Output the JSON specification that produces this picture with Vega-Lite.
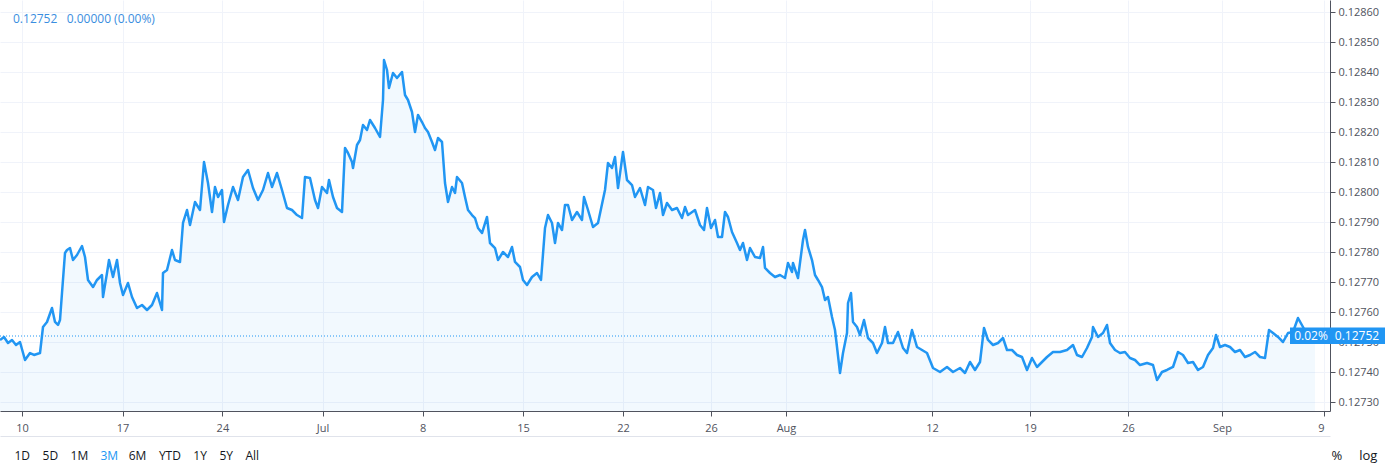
{
  "$schema": "https://vega.github.io/schema/vega-lite/v6.json",
  "width": 1330,
  "height": 411,
  "autosize": "none",
  "padding": {"left": 0, "top": 0, "right": 55, "bottom": 61},
  "background": "white",
  "title": {
    "text": "0.12752\u00a0\u00a0 0.00000 (0.00%)",
    "anchor": "start",
    "frame": "group",
    "orient": "top",
    "offset": -26,
    "dx": 13,
    "fontSize": 12,
    "fontWeight": "normal",
    "font": "Open Sans",
    "color": "#3a8ee0"
  },
  "datasets": {
    "rate": [
      {"t": -1.1, "v": 0.1275067}, {"t": -0.9, "v": 0.1275167}, {"t": -0.7, "v": 0.1274967}, {"t": -0.5, "v": 0.1275067},
      {"t": -0.3, "v": 0.12749}, {"t": -0.1, "v": 0.1275}, {"t": 0.15, "v": 0.12744}, {"t": 0.4, "v": 0.1274633},
      {"t": 0.6, "v": 0.1274567}, {"t": 0.75, "v": 0.12746}, {"t": 0.9, "v": 0.1274633}, {"t": 1.05, "v": 0.12755},
      {"t": 1.25, "v": 0.1275667}, {"t": 1.5, "v": 0.1276133}, {"t": 1.65, "v": 0.1275667}, {"t": 1.8, "v": 0.1275567},
      {"t": 1.9, "v": 0.1275733}, {"t": 2.0, "v": 0.1276633}, {"t": 2.15, "v": 0.1277967}, {"t": 2.25, "v": 0.1278067},
      {"t": 2.4, "v": 0.1278133}, {"t": 2.55, "v": 0.1277733}, {"t": 2.75, "v": 0.12779}, {"t": 3.0, "v": 0.12782},
      {"t": 3.15, "v": 0.1277833}, {"t": 3.3, "v": 0.1277067}, {"t": 3.55, "v": 0.1276833}, {"t": 3.75, "v": 0.1277067},
      {"t": 4.0, "v": 0.1277233}, {"t": 4.05, "v": 0.12765}, {"t": 4.25, "v": 0.12773}, {"t": 4.35, "v": 0.1277733},
      {"t": 4.55, "v": 0.1277167}, {"t": 4.75, "v": 0.1277733}, {"t": 4.9, "v": 0.1276967}, {"t": 5.05, "v": 0.1276567},
      {"t": 5.3, "v": 0.1276967}, {"t": 5.5, "v": 0.12765}, {"t": 5.75, "v": 0.1276133}, {"t": 6.0, "v": 0.1276233},
      {"t": 6.25, "v": 0.1276067}, {"t": 6.5, "v": 0.1276233}, {"t": 6.75, "v": 0.1276633}, {"t": 7.0, "v": 0.1276067},
      {"t": 7.05, "v": 0.12773}, {"t": 7.25, "v": 0.12774}, {"t": 7.5, "v": 0.1278067}, {"t": 7.65, "v": 0.1277733},
      {"t": 7.9, "v": 0.1277667}, {"t": 8.05, "v": 0.1278967}, {"t": 8.25, "v": 0.12794}, {"t": 8.4, "v": 0.12789},
      {"t": 8.65, "v": 0.1279667}, {"t": 8.9, "v": 0.12794}, {"t": 9.1, "v": 0.1281}, {"t": 9.3, "v": 0.12803},
      {"t": 9.5, "v": 0.1279333}, {"t": 9.65, "v": 0.1280167}, {"t": 9.8, "v": 0.1279833}, {"t": 10.0, "v": 0.1280067},
      {"t": 10.1, "v": 0.1279}, {"t": 10.3, "v": 0.1279567}, {"t": 10.55, "v": 0.1280167}, {"t": 10.8, "v": 0.1279733},
      {"t": 11.05, "v": 0.12805}, {"t": 11.3, "v": 0.1280733}, {"t": 11.55, "v": 0.1280133}, {"t": 11.8, "v": 0.1279733},
      {"t": 12.05, "v": 0.1280067}, {"t": 12.3, "v": 0.1280633}, {"t": 12.5, "v": 0.1280167}, {"t": 12.75, "v": 0.1280633},
      {"t": 13.0, "v": 0.1280067}, {"t": 13.25, "v": 0.1279467}, {"t": 13.5, "v": 0.12794}, {"t": 13.75, "v": 0.1279233},
      {"t": 14.0, "v": 0.1279133}, {"t": 14.15, "v": 0.12805}, {"t": 14.4, "v": 0.1280467}, {"t": 14.65, "v": 0.1279733},
      {"t": 14.8, "v": 0.1279467}, {"t": 15.0, "v": 0.1280167}, {"t": 15.25, "v": 0.1279967}, {"t": 15.35, "v": 0.12804},
      {"t": 15.55, "v": 0.1279833}, {"t": 15.75, "v": 0.1279467}, {"t": 16.0, "v": 0.1279333}, {"t": 16.15, "v": 0.1281467},
      {"t": 16.3, "v": 0.12813}, {"t": 16.5, "v": 0.1281}, {"t": 16.55, "v": 0.12808}, {"t": 16.75, "v": 0.1281567},
      {"t": 16.9, "v": 0.1281733}, {"t": 17.05, "v": 0.1282233}, {"t": 17.25, "v": 0.1282067}, {"t": 17.4, "v": 0.12824},
      {"t": 17.65, "v": 0.1282133}, {"t": 17.9, "v": 0.1281833}, {"t": 18.05, "v": 0.1283067}, {"t": 18.1, "v": 0.12844},
      {"t": 18.25, "v": 0.1284067}, {"t": 18.35, "v": 0.1283467}, {"t": 18.55, "v": 0.1283967}, {"t": 18.75, "v": 0.12838},
      {"t": 19.0, "v": 0.1284}, {"t": 19.15, "v": 0.1283233}, {"t": 19.3, "v": 0.1283067}, {"t": 19.5, "v": 0.1282667},
      {"t": 19.65, "v": 0.1282}, {"t": 19.8, "v": 0.1282567}, {"t": 20.0, "v": 0.1282333}, {"t": 20.15, "v": 0.1282133},
      {"t": 20.3, "v": 0.1282}, {"t": 20.5, "v": 0.1281667}, {"t": 20.65, "v": 0.12814}, {"t": 20.8, "v": 0.12818},
      {"t": 21.0, "v": 0.1281667}, {"t": 21.15, "v": 0.12803}, {"t": 21.3, "v": 0.1279667}, {"t": 21.5, "v": 0.1280167},
      {"t": 21.65, "v": 0.1279967}, {"t": 21.75, "v": 0.12805}, {"t": 22.0, "v": 0.12803}, {"t": 22.15, "v": 0.1279833},
      {"t": 22.3, "v": 0.12794}, {"t": 22.5, "v": 0.1279233}, {"t": 22.65, "v": 0.1279133}, {"t": 22.8, "v": 0.12788},
      {"t": 23.0, "v": 0.1278633}, {"t": 23.25, "v": 0.1279167}, {"t": 23.4, "v": 0.12783}, {"t": 23.65, "v": 0.1278133},
      {"t": 23.8, "v": 0.1277733}, {"t": 24.05, "v": 0.1278}, {"t": 24.3, "v": 0.1277833}, {"t": 24.5, "v": 0.1278167},
      {"t": 24.65, "v": 0.1277667}, {"t": 24.9, "v": 0.12775}, {"t": 25.05, "v": 0.1277067}, {"t": 25.25, "v": 0.12769},
      {"t": 25.5, "v": 0.1277167}, {"t": 25.75, "v": 0.12773}, {"t": 25.95, "v": 0.1277067}, {"t": 26.15, "v": 0.12788},
      {"t": 26.3, "v": 0.1279233}, {"t": 26.5, "v": 0.1278967}, {"t": 26.65, "v": 0.12783}, {"t": 26.8, "v": 0.1278967},
      {"t": 27.0, "v": 0.1278733}, {"t": 27.15, "v": 0.1279567}, {"t": 27.3, "v": 0.1279567}, {"t": 27.5, "v": 0.1279067},
      {"t": 27.75, "v": 0.1279333}, {"t": 28.0, "v": 0.1279067}, {"t": 28.1, "v": 0.1279833}, {"t": 28.3, "v": 0.12794},
      {"t": 28.55, "v": 0.1278833}, {"t": 28.8, "v": 0.1278967}, {"t": 29.15, "v": 0.1280067}, {"t": 29.3, "v": 0.1280967},
      {"t": 29.5, "v": 0.12808}, {"t": 29.65, "v": 0.1281167}, {"t": 29.8, "v": 0.1280133}, {"t": 30.05, "v": 0.1281333},
      {"t": 30.25, "v": 0.12804}, {"t": 30.5, "v": 0.1280233}, {"t": 30.65, "v": 0.1279833}, {"t": 30.9, "v": 0.1280133},
      {"t": 31.15, "v": 0.1279567}, {"t": 31.3, "v": 0.1280167}, {"t": 31.55, "v": 0.1280067}, {"t": 31.7, "v": 0.1279467},
      {"t": 31.9, "v": 0.1279967}, {"t": 32.05, "v": 0.1279233}, {"t": 32.25, "v": 0.1279633}, {"t": 32.5, "v": 0.12794},
      {"t": 32.75, "v": 0.1279467}, {"t": 33.0, "v": 0.1279133}, {"t": 33.15, "v": 0.12795}, {"t": 33.3, "v": 0.1279233},
      {"t": 33.65, "v": 0.12794}, {"t": 33.9, "v": 0.12789}, {"t": 34.1, "v": 0.1278733}, {"t": 34.25, "v": 0.1279467},
      {"t": 34.45, "v": 0.12788}, {"t": 34.65, "v": 0.1279067}, {"t": 34.8, "v": 0.12785}, {"t": 35.0, "v": 0.12785},
      {"t": 35.15, "v": 0.1279333}, {"t": 35.3, "v": 0.1279167}, {"t": 35.5, "v": 0.1278667}, {"t": 35.75, "v": 0.12783},
      {"t": 35.9, "v": 0.1278067}, {"t": 36.05, "v": 0.12783}, {"t": 36.25, "v": 0.1277733}, {"t": 36.4, "v": 0.1278133},
      {"t": 36.65, "v": 0.1277833}, {"t": 36.9, "v": 0.12778}, {"t": 37.05, "v": 0.1278167}, {"t": 37.15, "v": 0.1277467},
      {"t": 37.4, "v": 0.12773}, {"t": 37.65, "v": 0.1277167}, {"t": 37.9, "v": 0.1277233}, {"t": 38.15, "v": 0.1277133},
      {"t": 38.3, "v": 0.1277633}, {"t": 38.5, "v": 0.1277333}, {"t": 38.55, "v": 0.1277633}, {"t": 38.8, "v": 0.1277133},
      {"t": 39.05, "v": 0.12784}, {"t": 39.15, "v": 0.1278733}, {"t": 39.3, "v": 0.1278167}, {"t": 39.5, "v": 0.1277733},
      {"t": 39.65, "v": 0.1277233}, {"t": 39.8, "v": 0.1277067}, {"t": 40.0, "v": 0.1276833}, {"t": 40.15, "v": 0.12764},
      {"t": 40.3, "v": 0.12765}, {"t": 40.5, "v": 0.1275833}, {"t": 40.65, "v": 0.12754}, {"t": 40.75, "v": 0.1274833},
      {"t": 40.9, "v": 0.1273967}, {"t": 41.05, "v": 0.1274633}, {"t": 41.25, "v": 0.12753}, {"t": 41.3, "v": 0.12763},
      {"t": 41.45, "v": 0.1276633}, {"t": 41.55, "v": 0.1275667}, {"t": 41.75, "v": 0.12755}, {"t": 41.9, "v": 0.1275233},
      {"t": 42.1, "v": 0.1275733}, {"t": 42.3, "v": 0.1275133}, {"t": 42.55, "v": 0.1274967}, {"t": 42.75, "v": 0.1274633},
      {"t": 43.0, "v": 0.1274967}, {"t": 43.15, "v": 0.12755}, {"t": 43.3, "v": 0.1274967}, {"t": 43.55, "v": 0.1274967},
      {"t": 43.8, "v": 0.1275333}, {"t": 44.05, "v": 0.12748}, {"t": 44.25, "v": 0.1274633}, {"t": 44.5, "v": 0.12754},
      {"t": 44.75, "v": 0.1274833}, {"t": 45.0, "v": 0.1274733}, {"t": 45.25, "v": 0.1274633}, {"t": 45.55, "v": 0.1274133},
      {"t": 45.9, "v": 0.1274}, {"t": 46.25, "v": 0.1274167}, {"t": 46.55, "v": 0.1274}, {"t": 46.9, "v": 0.1274133},
      {"t": 47.15, "v": 0.1273967}, {"t": 47.4, "v": 0.1274333}, {"t": 47.65, "v": 0.1274067}, {"t": 47.9, "v": 0.1274333},
      {"t": 48.1, "v": 0.1275467}, {"t": 48.3, "v": 0.1275067}, {"t": 48.55, "v": 0.12749}, {"t": 48.8, "v": 0.1274967},
      {"t": 49.05, "v": 0.1275133}, {"t": 49.25, "v": 0.1274733}, {"t": 49.5, "v": 0.1274733}, {"t": 49.75, "v": 0.1274567},
      {"t": 50.0, "v": 0.12745}, {"t": 50.25, "v": 0.1274067}, {"t": 50.5, "v": 0.1274467}, {"t": 50.75, "v": 0.1274167},
      {"t": 51.0, "v": 0.1274333}, {"t": 51.25, "v": 0.12745}, {"t": 51.55, "v": 0.1274667}, {"t": 51.9, "v": 0.1274667},
      {"t": 52.25, "v": 0.1274733}, {"t": 52.55, "v": 0.12749}, {"t": 52.75, "v": 0.1274567}, {"t": 53.0, "v": 0.12745},
      {"t": 53.25, "v": 0.12748}, {"t": 53.5, "v": 0.1275167}, {"t": 53.55, "v": 0.12755}, {"t": 53.8, "v": 0.1275167},
      {"t": 54.05, "v": 0.12753}, {"t": 54.25, "v": 0.1275567}, {"t": 54.4, "v": 0.1274967}, {"t": 54.65, "v": 0.1274733},
      {"t": 54.9, "v": 0.1274633}, {"t": 55.15, "v": 0.1274667}, {"t": 55.4, "v": 0.1274467}, {"t": 55.65, "v": 0.12744},
      {"t": 55.9, "v": 0.1274233}, {"t": 56.25, "v": 0.12743}, {"t": 56.55, "v": 0.1274233}, {"t": 56.75, "v": 0.1273733},
      {"t": 57.0, "v": 0.1274}, {"t": 57.25, "v": 0.1274067}, {"t": 57.55, "v": 0.1274167}, {"t": 57.8, "v": 0.1274667},
      {"t": 58.05, "v": 0.1274567}, {"t": 58.3, "v": 0.12743}, {"t": 58.55, "v": 0.1274333}, {"t": 58.8, "v": 0.1274067},
      {"t": 59.05, "v": 0.1274167}, {"t": 59.3, "v": 0.1274567}, {"t": 59.55, "v": 0.12748}, {"t": 59.7, "v": 0.1275233},
      {"t": 59.9, "v": 0.1274833}, {"t": 60.15, "v": 0.12749}, {"t": 60.4, "v": 0.1274833}, {"t": 60.65, "v": 0.1274667},
      {"t": 60.9, "v": 0.1274733}, {"t": 61.15, "v": 0.12745}, {"t": 61.4, "v": 0.1274567}, {"t": 61.65, "v": 0.1274667},
      {"t": 61.9, "v": 0.12745}, {"t": 62.15, "v": 0.1274467}, {"t": 62.35, "v": 0.12754}, {"t": 62.55, "v": 0.12753},
      {"t": 62.8, "v": 0.1275167}, {"t": 63.05, "v": 0.1275}, {"t": 63.3, "v": 0.12753}, {"t": 63.55, "v": 0.1275333},
      {"t": 63.8, "v": 0.12758}, {"t": 64.05, "v": 0.12755}, {"t": 64.3, "v": 0.1275167}, {"t": 64.65, "v": 0.12752}
    ]
  },
  "layer": [
    {
      "data": {"name": "rate"},
      "mark": {"type": "area", "color": "#2196f3", "opacity": 0.06, "clip": true},
      "encoding": {
        "x": {
          "field": "t",
          "type": "quantitative",
          "scale": {"domain": [-1.1, 65.4], "nice": false, "zero": false},
          "axis": {
            "orient": "bottom",
            "values": [0, 5.03, 10.02, 15.03, 20.03, 25.05, 30.05, 34.45, 38.2, 45.5, 50.4, 55.3, 60, 65.1],
            "labelExpr": "datum.value < 2 ? '10' : datum.value < 7 ? '17' : datum.value < 12 ? '24' : datum.value < 17 ? 'Jul' : datum.value < 22 ? '8' : datum.value < 27 ? '15' : datum.value < 32 ? '22' : datum.value < 36 ? '26' : datum.value < 40 ? 'Aug' : datum.value < 47 ? '12' : datum.value < 52 ? '19' : datum.value < 57 ? '26' : datum.value < 62 ? 'Sep' : '9'",
            "labelAlign": {"condition": {"test": "datum.value > 64", "value": "right"}, "value": "center"},
            "labelFlush": false,
            "labelOverlap": false,
            "labelPadding": 6,
            "labelFontSize": 11,
            "tickCount": 30,
            "title": "1D\u00a0\u00a0\u00a0\u00a05D\u00a0\u00a0\u00a0\u00a01M\u00a0\u00a0\u00a0\u00a0\u00a0\u00a0\u00a0\u00a0\u00a0\u00a0\u00a0\u00a0\u00a06M\u00a0\u00a0\u00a0\u00a0YTD\u00a0\u00a0\u00a0\u00a01Y\u00a0\u00a0\u00a0\u00a05Y\u00a0\u00a0\u00a0\u00a0All",
            "titleX": 14,
            "titleY": 44,
            "titleAlign": "left",
            "titleBaseline": "middle",
            "titleFontSize": 12,
            "titleFontWeight": "normal",
            "titleColor": "#131722"
          }
        },
        "y": {
          "field": "v",
          "type": "quantitative",
          "scale": {"domain": [0.12727, 0.12864], "nice": false, "zero": false},
          "axis": {
            "orient": "right",
            "values": [0.1273, 0.1274, 0.1275, 0.1276, 0.1277, 0.1278, 0.1279, 0.128, 0.1281, 0.1282, 0.1283, 0.1284, 0.1285, 0.1286],
            "tickCount": 30,
            "format": ".5f",
            "labelOverlap": false,
            "labelPadding": 3,
            "labelFontSize": 11,
            "tickSize": 5,
            "zindex": 0,
            "title": "%\u00a0\u00a0\u00a0\u00a0 log",
            "titleAngle": 0,
            "titleX": 24,
            "titleY": 455,
            "titleAlign": "center",
            "titleBaseline": "middle",
            "titleFontSize": 13,
            "titleFontWeight": "normal",
            "titleColor": "#131722"
          }
        }
      }
    },
    {
      "data": {"name": "rate"},
      "mark": {"type": "line", "color": "#2196f3", "strokeWidth": 2.5, "strokeJoin": "round"},
      "encoding": {
        "x": {
          "field": "t",
          "type": "quantitative",
          "axis": {
            "orient": "bottom",
            "offset": 25,
            "grid": false,
            "ticks": false,
            "labels": false,
            "domainColor": "#e0e3eb",
            "title": "3M",
            "titleX": 100,
            "titleY": 19,
            "titleAlign": "left",
            "titleBaseline": "middle",
            "titleFontSize": 12,
            "titleFontWeight": "normal",
            "titleColor": "#2196f3"
          }
        },
        "y": {"field": "v", "type": "quantitative"}
      }
    },
    {
      "data": {"values": [{}]},
      "mark": {"type": "rule", "color": "#2196f3", "strokeDash": [1, 2], "strokeWidth": 1},
      "encoding": {
        "y": {"datum": 0.12752, "type": "quantitative"}
      }
    },
    {
      "data": {"values": [{}]},
      "mark": {"type": "rect", "color": "#2196f3"},
      "encoding": {
        "x": {"datum": 63.4, "type": "quantitative", "axis": null},
        "x2": {"datum": 68.15},
        "y": {"datum": 0.127493, "type": "quantitative"},
        "y2": {"datum": 0.127548}
      }
    },
    {
      "data": {"values": [{"label": "0.02%", "t": 64.45}, {"label": "0.12752", "t": 66.75}]},
      "mark": {"type": "text", "color": "white", "fontSize": 12, "font": "Open Sans", "baseline": "middle"},
      "encoding": {
        "x": {"field": "t", "type": "quantitative", "axis": null},
        "y": {"datum": 0.12752, "type": "quantitative"},
        "text": {"field": "label"}
      }
    }
  ],
  "resolve": {"axis": {"x": "independent"}},
  "config": {
    "font": "Open Sans",
    "view": {"stroke": null},
    "axis": {
      "grid": true,
      "gridColor": "#f0f3fa",
      "domainColor": "#50535e",
      "tickColor": "#50535e",
      "labelColor": "#50535e",
      "labelFont": "Open Sans"
    }
  }
}
